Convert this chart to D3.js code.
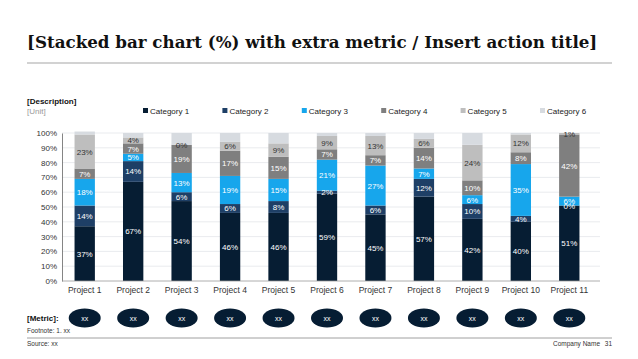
<!DOCTYPE html>
<html>
<head>
<meta charset="utf-8">
<script src="https://cdn.jsdelivr.net/npm/d3@7"></script>
<style>
  body { margin: 0; background: #fff; }
  svg { display: block; font-family: "Liberation Sans", Arial, sans-serif; }
</style>
</head>
<body>
<svg></svg>
<script>
// chart data
const projects = ["Project 1", "Project 2", "Project 3", "Project 4", "Project 5", "Project 6",
                  "Project 7", "Project 8", "Project 9", "Project 10", "Project 11"];
const categories = ["Category 1", "Category 2", "Category 3", "Category 4", "Category 5", "Category 6"];
const cat1 = [37, 67, 54, 46, 46, 59, 45, 57, 42, 40, 51];
const cat2 = [14, 14, 6, 6, 8, 2, 6, 12, 10, 4, 0];
const cat3 = [18, 5, 13, 19, 15, 21, 27, 7, 6, 35, 6];
const cat4 = [7, 7, 19, 17, 15, 7, 7, 14, 10, 8, 42];
const cat5 = [23, 4, 0, 6, 9, 9, 13, 6, 24, 12, 1];
const cat6 = [2, 3, 8, 6, 7, 2, 2, 4, 8, 1, 0];
const metric = ["xx", "xx", "xx", "xx", "xx", "xx", "xx", "xx", "xx", "xx", "xx"];
const yTicks = [0, 10, 20, 30, 40, 50, 60, 70, 80, 90, 100];

const colors = ["#061D33", "#1E3F66", "#17A6EC", "#7F7F7F", "#BEBEBE", "#D7DBE0"];
const labelColors = ["#fff", "#fff", "#fff", "#fff", "#333", "#333"];

let width = 638;
let height = 359;
let svg = d3.select('svg').attr('width', width).attr('height', height);

const series = [cat1, cat2, cat3, cat4, cat5, cat6];
const rows = projects.map((p, i) => {
    let r = { project: p };
    categories.forEach((c, k) => r[c] = series[k][i]);
    return r;
});
const stacked = d3.stack().keys(categories)(rows);

// title, sized to span the same width as the reference
const title = svg.append('text')
   .attr('x', 27).attr('y', 48)
   .style('font-family', '"DejaVu Serif", "Liberation Serif", serif')
   .style('font-weight', 'bold')
   .style('font-size', '18px')
   .attr('fill', '#111')
   .text('[Stacked bar chart (%) with extra metric / Insert action title]');
const tl = title.node().getComputedTextLength();
title.style('font-size', (18 * 571 / tl) + 'px');

svg.append('line')
   .attr('x1', 27).attr('x2', 612).attr('y1', 63).attr('y2', 63)
   .attr('stroke', '#a6a6a6').attr('stroke-width', 1.2);

svg.append('text').attr('x', 27).attr('y', 104)
   .style('font-size', '8px').style('font-weight', 'bold').attr('fill', '#111')
   .text('[Description]');
svg.append('text').attr('x', 27).attr('y', 114)
   .style('font-size', '8px').attr('fill', '#999')
   .text('[Unit]');

// legend
const legendX = d3.scalePoint().domain(categories).range([143, 540]);
const legend = svg.append('g').selectAll('g').data(categories).enter().append('g')
   .attr('transform', (d) => "translate(" + legendX(d) + ", 114)");
legend.append('rect').attr('x', 0).attr('y', -6).attr('width', 5).attr('height', 5)
   .attr('fill', (d, i) => colors[i]);
legend.append('text').attr('x', 7).attr('y', 0)
   .style('font-size', '8px').attr('fill', '#222').text((d) => d);

// scales
const yScale = d3.scaleLinear().domain([0, 100]).range([281, 133]);
const xScale = d3.scaleBand().domain(projects).range([60, 594]).paddingInner(0.58).paddingOuter(0.3);

// grid
svg.append('g').selectAll('line').data(yTicks.slice(1)).enter().append('line')
   .attr('x1', 62).attr('x2', 600)
   .attr('y1', (d) => yScale(d)).attr('y2', (d) => yScale(d))
   .attr('stroke', '#e3e6ea').attr('stroke-width', 0.8);

// bars
const layers = svg.append('g').selectAll('g').data(stacked).enter().append('g')
   .attr('fill', (d, i) => colors[i]);
layers.selectAll('rect').data((d) => d).enter().append('rect')
   .attr('x', (d) => xScale(d.data.project))
   .attr('y', (d) => yScale(d[1]))
   .attr('width', xScale.bandwidth())
   .attr('height', (d) => yScale(d[0]) - yScale(d[1]));

// data labels (category 6 not labelled)
stacked.slice(0, 5).forEach((layer, k) => {
    svg.append('g').selectAll('text').data(layer).enter().append('text')
       .attr('x', (d) => xScale(d.data.project) + xScale.bandwidth() / 2)
       .attr('y', (d) => yScale((d[0] + d[1]) / 2) + 3)
       .attr('text-anchor', 'middle')
       .style('font-size', '8px')
       .attr('fill', labelColors[k])
       .text((d) => (d[1] - d[0]) + '%');
});

// axes
const yAxis = d3.axisLeft(yScale).tickValues(yTicks).tickFormat((d) => d + '%').tickSize(0).tickPadding(5);
const gy = svg.append('g').attr('transform', "translate(62, 0)").call(yAxis);
gy.select('.domain').attr('stroke', '#666').attr('stroke-width', 0.8);
gy.selectAll('text').style('font-size', '8px').attr('fill', '#333')
   .style('font-family', '"Liberation Sans", Arial, sans-serif');

const xAxis = d3.axisBottom(xScale).tickSize(0).tickPadding(6);
const gx = svg.append('g').attr('transform', "translate(0, 281)").call(xAxis);
gx.select('.domain').attr('d', 'M62,0H600').attr('stroke', '#999').attr('stroke-width', 0.8);
gx.selectAll('text').style('font-size', '8.5px').attr('fill', '#333')
   .style('font-family', '"Liberation Sans", Arial, sans-serif');

// metric row
svg.append('text').attr('x', 27).attr('y', 321)
   .style('font-size', '8px').style('font-weight', 'bold').attr('fill', '#111')
   .text('[Metric]:');
const m = svg.append('g').selectAll('g').data(metric).enter().append('g')
   .attr('transform', (d, i) => "translate(" + (xScale(projects[i]) + xScale.bandwidth() / 2) + ", 318)");
m.append('ellipse').attr('rx', 16).attr('ry', 9.5).attr('fill', '#061D33');
m.append('text').attr('y', 2.5).attr('text-anchor', 'middle')
   .style('font-size', '7px').attr('fill', '#fff').text((d) => d);

// footer
svg.append('text').attr('x', 27).attr('y', 333)
   .style('font-size', '6.5px').attr('fill', '#333').text('Footnote: 1. xx');
svg.append('line').attr('x1', 27).attr('x2', 612).attr('y1', 338).attr('y2', 338)
   .attr('stroke', '#888').attr('stroke-width', 0.8);
svg.append('text').attr('x', 27).attr('y', 346)
   .style('font-size', '6.5px').attr('fill', '#333').text('Source: xx');
svg.append('text').attr('x', 600).attr('y', 346).attr('text-anchor', 'end')
   .style('font-size', '6.5px').attr('fill', '#333').text('Company Name');
svg.append('text').attr('x', 612).attr('y', 346).attr('text-anchor', 'end')
   .style('font-size', '6.5px').attr('fill', '#333').text('31');
</script>
</body>
</html>
